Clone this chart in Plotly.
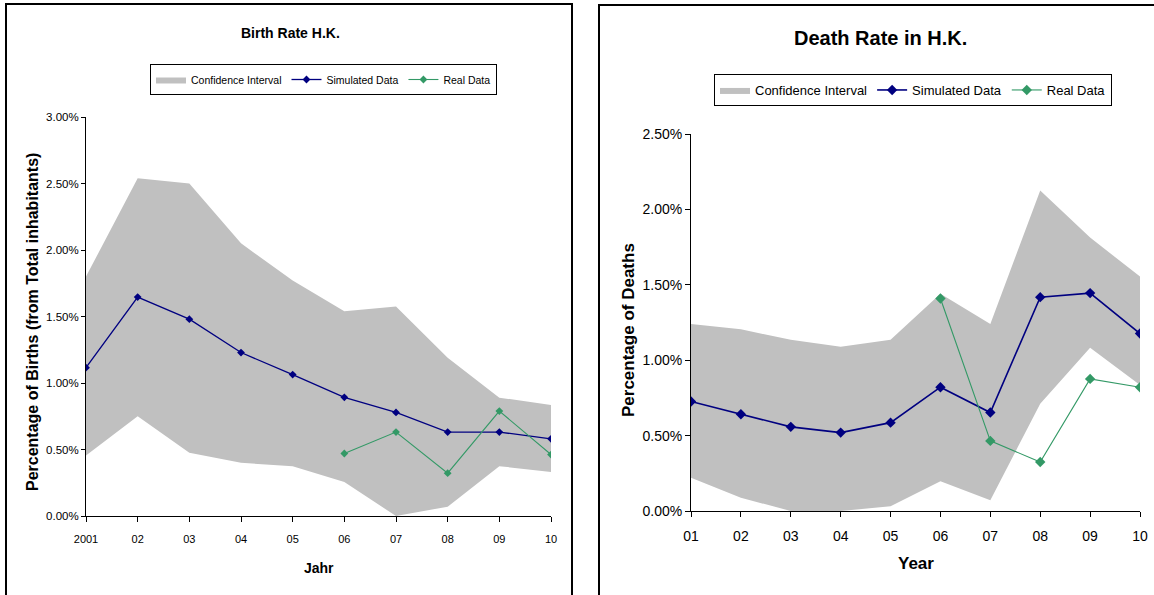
import plotly.graph_objects as go

# The page's default body margin is removed after drawing (post_script), so
# figure coordinates equal reference pixel coordinates.
OFF = 0
W, H = 1154 - OFF, 595 - OFF

# ---------------- data ----------------
birth_years = ["2001", "02", "03", "04", "05", "06", "07", "08", "09", "10"]
birth_ci_upper = [1.80, 2.54, 2.50, 2.05, 1.77, 1.54, 1.575, 1.19, 0.89, 0.835]
birth_ci_lower = [0.455, 0.75, 0.475, 0.40, 0.375, 0.255, 0.0, 0.07, 0.375, 0.33]
birth_simulated = [1.115, 1.646, 1.48, 1.229, 1.063, 0.892, 0.779, 0.631, 0.631, 0.58]
birth_real = [None, None, None, None, None, 0.47, 0.631, 0.322, 0.789, 0.462]

death_years = ["01", "02", "03", "04", "05", "06", "07", "08", "09", "10"]
death_ci_upper = [1.24, 1.205, 1.135, 1.09, 1.135, 1.44, 1.24, 2.126, 1.813, 1.555]
death_ci_lower = [0.221, 0.088, 0.0, 0.0, 0.031, 0.197, 0.071, 0.712, 1.082, 0.835]
death_simulated = [0.726, 0.642, 0.558, 0.52, 0.586, 0.821, 0.653, 1.418, 1.445, 1.177]
death_real = [None, None, None, None, None, 1.409, 0.465, 0.325, 0.876, 0.821]

y_ticks_birth = [0, 0.5, 1.0, 1.5, 2.0, 2.5, 3.0]
y_ticks_death = [0, 0.5, 1.0, 1.5, 2.0, 2.5]


def pct(v):
    return [None if x is None else x / 100.0 for x in v]


def px_x(p):
    return (p - OFF) / W


def px_y(p):
    return (H - (p - OFF)) / H


NAVY = "#000080"
GREEN = "#339966"
GRAY = "#C0C0C0"
NARROW = "Liberation Sans Narrow, Arial Narrow, Liberation Sans, Arial, sans-serif"
BOLD = "Liberation Sans, Arial, sans-serif"

fig = go.Figure()

idx = list(range(10))

# ---- left chart: births ----
fig.add_trace(go.Scatter(x=idx, y=pct(birth_ci_lower), mode="lines", line=dict(width=0, color=GRAY),
                         showlegend=False, hoverinfo="skip", xaxis="x", yaxis="y"))
fig.add_trace(go.Scatter(x=idx, y=pct(birth_ci_upper), mode="lines", line=dict(width=0, color=GRAY),
                         fill="tonexty", fillcolor=GRAY, name="Confidence Interval",
                         xaxis="x", yaxis="y", legend="legend"))
fig.add_trace(go.Scatter(x=idx, y=pct(birth_simulated), mode="lines+markers", name="Simulated Data",
                         line=dict(color=NAVY, width=1.3), marker=dict(symbol="diamond", size=6, color=NAVY),
                         xaxis="x", yaxis="y", legend="legend"))
fig.add_trace(go.Scatter(x=idx, y=pct(birth_real), mode="lines+markers", name="Real Data",
                         line=dict(color=GREEN, width=1.1), marker=dict(symbol="diamond", size=6, color=GREEN),
                         xaxis="x", yaxis="y", legend="legend"))

# ---- right chart: deaths ----
fig.add_trace(go.Scatter(x=idx, y=pct(death_ci_lower), mode="lines", line=dict(width=0, color=GRAY),
                         showlegend=False, hoverinfo="skip", xaxis="x2", yaxis="y2"))
fig.add_trace(go.Scatter(x=idx, y=pct(death_ci_upper), mode="lines", line=dict(width=0, color=GRAY),
                         fill="tonexty", fillcolor=GRAY, name="Confidence Interval",
                         xaxis="x2", yaxis="y2", legend="legend2"))
fig.add_trace(go.Scatter(x=idx, y=pct(death_simulated), mode="lines+markers", name="Simulated Data",
                         line=dict(color=NAVY, width=1.6), marker=dict(symbol="diamond", size=8, color=NAVY),
                         xaxis="x2", yaxis="y2", legend="legend2"))
fig.add_trace(go.Scatter(x=idx, y=pct(death_real), mode="lines+markers", name="Real Data",
                         line=dict(color=GREEN, width=1.1), marker=dict(symbol="diamond", size=8, color=GREEN),
                         xaxis="x2", yaxis="y2", legend="legend2"))

axis_common = dict(showgrid=False, zeroline=False, showline=True, linecolor="#000000", linewidth=1,
                   ticks="outside", tickcolor="#000000", fixedrange=True, automargin=False)


def ann(text, x, y, size, family, angle=0):
    return dict(text=text, x=px_x(x), y=px_y(y), xref="paper", yref="paper", showarrow=False,
                xanchor="center", yanchor="middle", textangle=angle,
                font=dict(family=family, size=size, color="#000"))


fig.update_layout(
    width=W, height=H,
    margin=dict(l=0, r=0, t=0, b=0, autoexpand=False),
    paper_bgcolor="white", plot_bgcolor="white",
    showlegend=True,
    xaxis=dict(domain=[px_x(86), px_x(551)], range=[0, 9], tickvals=idx, ticktext=birth_years,
               tickfont=dict(family=NARROW, size=11, color="#000"), ticklabelstandoff=8, anchor="y",
               ticklen=5, **axis_common),
    yaxis=dict(domain=[px_y(516), px_y(117)], range=[0, 0.03], tickvals=pct(y_ticks_birth),
               tickformat=".2%", tickfont=dict(family=NARROW, size=11.5, color="#000"),
               ticklen=4, anchor="x", **axis_common),
    xaxis2=dict(domain=[px_x(691), px_x(1140)], range=[0, 9], tickvals=idx, ticktext=death_years,
                tickfont=dict(family=NARROW, size=14, color="#000"), ticklabelstandoff=7, anchor="y2",
                ticklen=5, **axis_common),
    yaxis2=dict(domain=[px_y(511), px_y(134)], range=[0, 0.025], tickvals=pct(y_ticks_death),
                tickformat=".2%", tickfont=dict(family=NARROW, size=14, color="#000"),
                ticklen=5, anchor="x2", **axis_common),
    legend=dict(orientation="h", x=px_x(150), y=px_y(64), xanchor="left", yanchor="top",
                bordercolor="#000", borderwidth=1, bgcolor="white", traceorder="normal",
                font=dict(family=NARROW, size=10.5, color="#000"), itemwidth=30,
                tracegroupgap=0),
    legend2=dict(orientation="h", x=px_x(714), y=px_y(74), xanchor="left", yanchor="top",
                 bordercolor="#000", borderwidth=1, bgcolor="white", traceorder="normal",
                 font=dict(family=NARROW, size=13, color="#000"), itemwidth=30,
                 tracegroupgap=0),
    shapes=[
        dict(type="rect", xref="paper", yref="paper", x0=px_x(6), x1=px_x(572), y0=-0.1, y1=px_y(4),
             line=dict(color="#000", width=2), fillcolor="rgba(0,0,0,0)", layer="below"),
        dict(type="rect", xref="paper", yref="paper", x0=px_x(599), x1=1.1, y0=-0.1, y1=px_y(5),
             line=dict(color="#000", width=2), fillcolor="rgba(0,0,0,0)", layer="below"),
    ],
    annotations=[
        ann("<b>Birth Rate H.K.</b>", 290, 33, 14, NARROW),
        ann("<b>Death Rate in H.K.</b>", 880, 38, 20, NARROW),
        ann("<b>Percentage of Births (from Total inhabitants)</b>", 32, 322, 16, BOLD, -90),
        ann("<b>Jahr</b>", 319, 568, 14, NARROW),
        ann("<b>Percentage of Deaths</b>", 628, 330, 17, BOLD, -90),
        ann("<b>Year</b>", 916, 563, 17, BOLD),
    ],
)

fig.write_html("out.html",
               config={"displayModeBar": False},
               post_script="document.body.style.margin='0';document.body.style.overflow='hidden';")
